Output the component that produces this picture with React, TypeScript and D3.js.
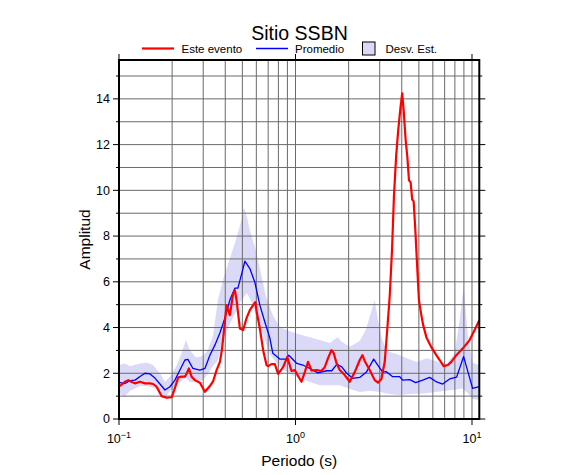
import React from "react";
import * as d3 from "d3";

// ---- Data ----
const eventPeriod = [0.1, 0.1026, 0.1081, 0.1129, 0.118, 0.1232, 0.1315, 0.1403, 0.1498, 0.1563,
  0.1634, 0.1744, 0.1862, 0.1987, 0.2047, 0.2166, 0.2273, 0.2363, 0.2425, 0.2489,
  0.2578, 0.2692, 0.2873, 0.3067, 0.3273, 0.3418, 0.3571, 0.3728, 0.3827, 0.3893,
  0.4069, 0.4247, 0.4434, 0.4534, 0.4636, 0.4839, 0.5052, 0.528, 0.5512, 0.5754,
  0.5922, 0.6016, 0.6281, 0.6555, 0.6851, 0.6995, 0.7314, 0.7637, 0.7971, 0.8508,
  0.8986, 0.9492, 0.9908, 1.034, 1.081, 1.129, 1.178, 1.232, 1.315, 1.403,
  1.465, 1.529, 1.599, 1.647, 1.706, 1.781, 1.901, 2.029, 2.166, 2.312,
  2.394, 2.483, 2.634, 2.811, 2.935, 3.067, 3.202, 3.299, 3.418, 3.522,
  3.614, 3.72, 3.818, 3.929, 4.022, 4.102, 4.21, 4.304, 4.394, 4.492,
  4.581, 4.671, 4.776, 4.877, 5.005, 5.165, 5.274, 5.513, 5.884, 6.281,
  6.559, 6.907, 7.305, 7.636, 8.151, 8.882, 9.694, 10.35, 11];
const eventAmp = [1.44, 1.48, 1.63, 1.70, 1.62, 1.56, 1.63, 1.56, 1.56, 1.53,
  1.41, 1.0, 0.93, 0.95, 1.22, 1.82, 1.85, 1.85, 2.01, 2.21,
  1.85, 1.70, 1.59, 1.19, 1.44, 1.66, 2.14, 2.49, 3.01, 3.54,
  4.98, 4.54, 5.49, 5.63, 5.20, 3.96, 3.89, 4.41, 4.76, 4.98,
  5.11, 4.72, 3.96, 3.01, 2.36, 2.31, 2.40, 2.40, 1.97, 2.27,
  2.71, 2.10, 2.14, 1.88, 1.63, 2.05, 2.50, 2.12, 2.14, 2.10,
  2.27, 2.66, 3.01, 2.88, 2.45, 2.14, 1.92, 1.63, 2.05, 2.58,
  2.79, 2.49, 2.14, 1.70, 1.59, 1.75, 2.49, 3.76, 5.37, 7.38,
  9.78, 11.53, 12.62, 13.58, 14.24, 13.49, 12.18, 11.44, 10.44, 10.35,
  9.61, 9.52, 8.25, 6.86, 5.20, 4.54, 4.15, 3.58, 3.14, 2.79,
  2.58, 2.31, 2.36, 2.50, 2.79, 3.09, 3.45, 3.89, 4.32];

const meanPeriod = [0.1, 0.108, 0.1154, 0.1232, 0.1315, 0.1403, 0.1498, 0.1599, 0.1706, 0.1821,
  0.1943, 0.2074, 0.2214, 0.2363, 0.2457, 0.2623, 0.2873, 0.3067, 0.3273, 0.3493,
  0.3728, 0.398, 0.4247, 0.4534, 0.4717, 0.4967, 0.5165, 0.5512, 0.5884, 0.6281,
  0.6704, 0.7155, 0.7438, 0.815, 0.8814, 0.9165, 1.017, 1.1, 1.205, 1.337,
  1.503, 1.605, 1.713, 1.828, 1.951, 2.11, 2.312, 2.532, 2.774, 2.923,
  3.12, 3.273, 3.553, 3.894, 4.05, 4.436, 4.797, 5.254, 5.757, 6.306,
  6.818, 7.47, 8.182, 8.965, 10.08, 11];
const meanAmp = [1.6, 1.55, 1.68, 1.7, 1.86, 2.0, 1.97, 1.79, 1.53, 1.27,
  1.41, 1.7, 2.14, 2.58, 2.61, 2.21, 2.14, 2.21, 2.79, 3.23,
  3.76, 4.41, 5.2, 5.72, 5.72, 6.38, 6.9, 6.58, 5.98, 4.98,
  4.24, 3.54, 2.88, 2.62, 2.62, 2.79, 2.43, 2.36, 2.21, 2.02,
  2.11, 2.11, 2.39, 2.28, 2.0, 1.78, 1.82, 2.07, 2.62, 2.36,
  2.05, 2.07, 1.85, 1.85, 1.7, 1.72, 1.59, 1.7, 1.82, 1.62,
  1.53, 1.75, 1.83, 2.73, 1.34, 1.42];

const stdUpperPeriod = [0.1, 0.1081, 0.1154, 0.1315, 0.1441, 0.1557, 0.1706, 0.1821, 0.1943, 0.2129,
  0.2273, 0.2394, 0.2522, 0.2728, 0.2988, 0.3189, 0.3404, 0.3634, 0.3878, 0.4247,
  0.4593, 0.4901, 0.5097, 0.5301, 0.5512, 0.5961, 0.6281, 0.6776, 0.7438, 0.815,
  0.9284, 1.058, 1.205, 1.372, 1.563, 1.735, 1.828, 2.029, 2.312, 2.499,
  2.668, 2.811, 2.923, 3.079, 3.287, 3.744, 4.265, 4.859, 5.536, 6.306,
  7.181, 7.973, 8.51, 8.965, 9.443, 10.08, 11];
const stdUpperAmp = [2.36, 2.43, 2.31, 2.43, 2.46, 2.36, 2.0, 1.63, 1.85, 2.36,
  2.93, 3.45, 3.01, 2.69, 2.75, 3.01, 3.62, 5.2, 6.07, 7.03,
  7.82, 8.6, 9.26, 8.86, 8.25, 7.38, 6.59, 5.41, 4.54, 4.02,
  3.84, 3.69, 3.58, 3.45, 3.32, 3.58, 3.38, 3.16, 3.41, 3.89,
  4.63, 5.2, 4.41, 3.54, 2.97, 2.84, 2.66, 2.49, 2.66, 2.53,
  2.40, 2.88, 4.32, 5.81, 3.76, 2.45, 2.36];

const stdLowerPeriod = [0.1, 0.1081, 0.1154, 0.1315, 0.1441, 0.1557, 0.1706, 0.1821, 0.1943, 0.2129,
  0.2273, 0.2394, 0.2522, 0.2728, 0.2988, 0.3189, 0.3404, 0.3634, 0.3878, 0.4247,
  0.4593, 0.4901, 0.5301, 0.5658, 0.6039, 0.6531, 0.7155, 0.7839, 0.8587, 0.9284,
  1.058, 1.205, 1.372, 1.563, 1.781, 2.029, 2.312, 2.634, 3.0, 3.418,
  3.894, 4.436, 5.394, 6.559, 7.768, 8.848, 9.443, 10.08, 11];
const stdLowerAmp = [1.09, 1.0, 1.22, 1.44, 1.44, 1.38, 1.22, 0.92, 1.22, 1.48,
  1.70, 1.79, 1.62, 1.62, 1.70, 1.97, 2.31, 2.58, 3.45, 4.15,
  4.67, 5.15, 5.5, 5.11, 4.41, 3.71, 2.84, 2.40, 2.14, 1.97,
  1.79, 1.62, 1.48, 1.48, 1.48, 1.31, 1.18, 1.24, 1.18, 1.09,
  1.05, 1.09, 1.11, 1.2, 1.27, 1.33, 1.14, 0.87, 0.83];

const yTicks = [0, 1, 2, 3, 4, 5, 6, 7, 8, 9, 10, 11, 12, 13, 14, 15];
const yLabelTicks = [0, 2, 4, 6, 8, 10, 12, 14];
const xMajor = [0.1, 1, 10];
const xMajorExp = ["\u22121", "0", "1"];
const xMinor = [0.2, 0.3, 0.4, 0.5, 0.6, 0.7, 0.8, 0.9, 2, 3, 4, 5, 6, 7, 8, 9];
const legendLabels = ["Este evento", "Promedio", "Desv. Est."];
const titleText = "Sitio SSBN";
const xTitle = "Periodo (s)";
const yTitle = "Amplitud";

const W = 586, H = 475;
const L = 119, R = 479.3, T = 60, B = 419;
const FONT = "'Liberation Sans', Arial, Helvetica, sans-serif";
const BAND = "#dadaf8";
const GRID = "#6a6a6a";

export default function App() {
  const x = d3.scaleLog().domain([0.1, 11]).range([L, R]);
  const y = d3.scaleLinear().domain([0, 15.7]).range([B, T]);
  const line = d3.line<[number, number]>().x(d => x(d[0])).y(d => y(d[1]));

  const eventPts = eventPeriod.map((p, i) => [p, eventAmp[i]] as [number, number]);
  const meanPts = meanPeriod.map((p, i) => [p, meanAmp[i]] as [number, number]);
  const bandPts = [
    ...stdUpperPeriod.map((p, i) => [p, stdUpperAmp[i]] as [number, number]),
    ...stdLowerPeriod.map((p, i) => [p, stdLowerAmp[i]] as [number, number]).reverse(),
  ];

  return (
    <svg width={W} height={H} style={{ position: "absolute", left: 0, top: 0, background: "#fff" }} fontFamily={FONT}>
      <defs>
        <clipPath id="plotclip">
          <rect x={L} y={T} width={R - L} height={B - T} />
        </clipPath>
      </defs>
      <g clipPath="url(#plotclip)">
        <path d={(line(bandPts) || "") + "Z"} fill={BAND} stroke="none" />
        {yTicks.map(v => (
          <line key={"hg" + v} x1={L} x2={R} y1={y(v)} y2={y(v)} stroke={GRID} strokeWidth={1} />
        ))}
        {[...xMajor, ...xMinor].map(v => (
          <line key={"vg" + v} x1={x(v)} x2={x(v)} y1={T} y2={B} stroke={GRID} strokeWidth={1} />
        ))}
        <path d={line(meanPts) || ""} fill="none" stroke="#0000ff" strokeWidth={1.3} strokeLinejoin="round" />
        <path d={line(eventPts) || ""} fill="none" stroke="#ff0000" strokeWidth={2.2} strokeLinejoin="round" />
      </g>
      {/* ticks */}
      {yTicks.map(v => {
        const len = v % 2 === 0 ? 6 : 3;
        return (
          <g key={"yt" + v}>
            <line x1={L - len} x2={L} y1={y(v)} y2={y(v)} stroke="#000" strokeWidth={1} />
            <line x1={R} x2={R + len} y1={y(v)} y2={y(v)} stroke="#000" strokeWidth={1} />
          </g>
        );
      })}
      {xMajor.map(v => (
        <g key={"xt" + v}>
          <line x1={x(v)} x2={x(v)} y1={B} y2={B + 6} stroke="#000" strokeWidth={1} />
          <line x1={x(v)} x2={x(v)} y1={T - 6} y2={T} stroke="#000" strokeWidth={1} />
        </g>
      ))}
      <rect x={L} y={T} width={R - L} height={B - T} fill="none" stroke="#000" strokeWidth={2} />
      {/* tick labels */}
      {yLabelTicks.map(v => (
        <text key={"yl" + v} x={L - 9} y={y(v)} dy="0.35em" textAnchor="end" fontSize={12.5} fill="#000">{v}</text>
      ))}
      {xMajor.map((v, i) => (
        <text key={"xl" + v} x={x(v)} y={443} textAnchor="middle" fontSize={12.5} fill="#000">
          10<tspan fontSize={9} dy={-5}>{xMajorExp[i]}</tspan>
        </text>
      ))}
      {/* axis titles */}
      <text x={(L + R) / 2} y={466} textAnchor="middle" fontSize={15.5} fill="#000">{xTitle}</text>
      <text transform={`translate(90,${(T + B) / 2}) rotate(-90)`} textAnchor="middle" fontSize={15.5} fill="#000">{yTitle}</text>
      <text x={299.5} y={39.5} textAnchor="middle" fontSize={19.5} fill="#000">{titleText}</text>
      {/* legend */}
      <line x1={142} x2={174} y1={48.5} y2={48.5} stroke="#ff0000" strokeWidth={2.2} />
      <text x={181.5} y={53} fontSize={11.5} fill="#000">{legendLabels[0]}</text>
      <line x1={256} x2={288} y1={48.5} y2={48.5} stroke="#0000ff" strokeWidth={1.5} />
      <text x={295} y={53} fontSize={11.5} fill="#000">{legendLabels[1]}</text>
      <rect x={362.5} y={42} width={12.5} height={13} fill={BAND} stroke="#000" strokeWidth={1} />
      <text x={385.5} y={53} fontSize={11.5} fill="#000">{legendLabels[2]}</text>
    </svg>
  );
}
